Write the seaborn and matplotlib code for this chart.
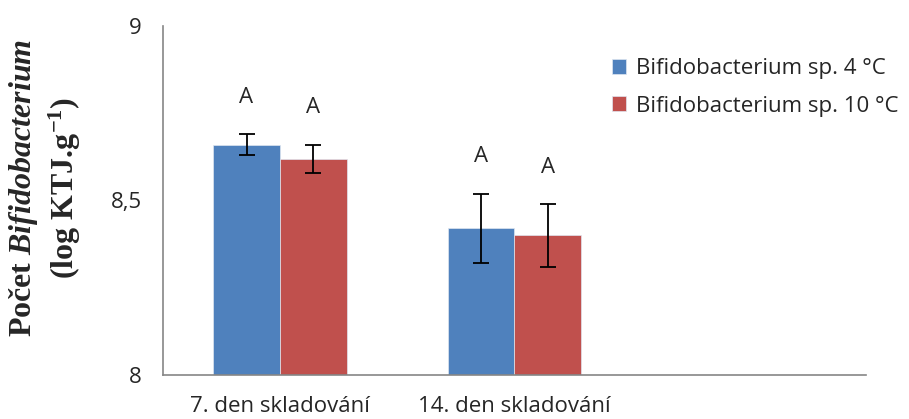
import pandas as pd
import matplotlib.pyplot as plt
import seaborn as sns

# data
days = ["7. den skladování", "14. den skladování"]
series = ["Bifidobacterium sp. 4 °C", "Bifidobacterium sp. 10 °C"]
means_4 = [8.66, 8.42]
means_10 = [8.62, 8.40]
err_4 = [0.03, 0.10]
err_10 = [0.04, 0.09]
letters_4 = ["A", "A"]
letters_10 = ["A", "A"]
yticks = [8, 8.5, 9]
ytick_labels = ["8", "8,5", "9"]

colors = {series[0]: "#4F81BD", series[1]: "#C0504D"}

df = pd.DataFrame({
    "day": days * 2,
    "series": [series[0]] * 2 + [series[1]] * 2,
    "value": means_4 + means_10,
})
errs = [err_4, err_10]
letters = [letters_4, letters_10]

sns.set_style("white")
plt.rcParams["font.family"] = ["Open Sans", "DejaVu Sans"]
plt.rcParams["mathtext.fontset"] = "custom"
plt.rcParams["mathtext.rm"] = "Liberation Serif:bold"
plt.rcParams["mathtext.it"] = "Liberation Serif:bold:italic"

fig, ax = plt.subplots(figsize=(9.09, 4.19), dpi=100)
fig.subplots_adjust(left=0.179, right=0.953, bottom=0.105, top=0.938)

sns.barplot(data=df, x="day", y="value", hue="series", order=days,
            hue_order=series, palette=colors, saturation=1, width=0.57,
            ax=ax, edgecolor="#dfe6f0", linewidth=0.5)

# error bars and letters on top of each bar
for cont, e, lab in zip(ax.containers, errs, letters):
    for bar, ev, txt in zip(cont.patches, e, lab):
        xc = bar.get_x() + bar.get_width() / 2
        h = bar.get_y() + bar.get_height()
        ax.errorbar(xc, h, yerr=ev, color="black", capsize=6,
                    elinewidth=1.3, capthick=1.3)
        ax.text(xc, h + ev + 0.105, txt, ha="center", va="center",
                fontsize=16)

ax.set_xlim(-0.5, 2.5)
ax.set_ylim(8, 9)
ax.set_yticks(yticks)
ax.set_yticklabels(ytick_labels, fontsize=16)
ax.tick_params(axis="x", length=0, labelsize=16, pad=15)
ax.tick_params(axis="y", length=7, color="#868686", width=1.2, direction="out", pad=8)
ax.set_xlabel("")
ax.set_ylabel("Počet $\\mathit{Bifidobacterium}$\n(log KTJ.g$^{\\mathrm{-1}}$)",
              family="Liberation Serif", fontweight="bold", fontsize=23,
              linespacing=1.25, labelpad=20)
ax.yaxis.label.set_y(0.536)

sns.despine(ax=ax)
for side in ["left", "bottom"]:
    ax.spines[side].set_color("#868686")
    ax.spines[side].set_linewidth(1.2)

ax.legend(loc="upper left", bbox_to_anchor=(0.661, 0.888),
          bbox_transform=fig.transFigure, frameon=False, fontsize=16,
          handlelength=0.65, handleheight=0.65, handletextpad=0.45,
          labelspacing=0.75, borderpad=0)

plt.savefig("out.png", dpi=100)
